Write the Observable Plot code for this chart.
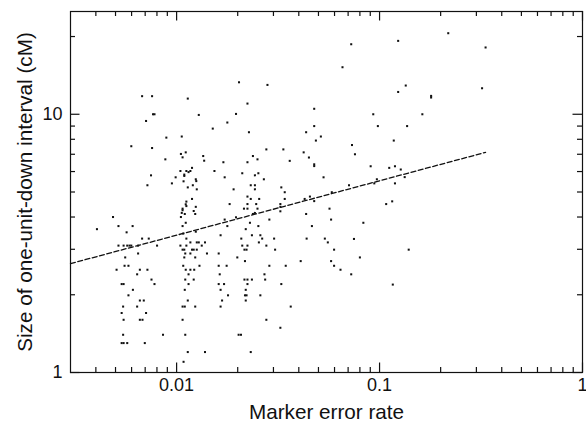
<!DOCTYPE html>
<html><head><meta charset="utf-8">
<script src="https://cdn.jsdelivr.net/npm/d3@7"></script>
<script src="https://cdn.jsdelivr.net/npm/@observablehq/plot@0.6"></script>
<style>body{margin:0;background:#fff;}</style>
</head><body><div id="chart"></div>
<script>
const errorRate = [
 0.00676, 0.00757, 0.01135, 0.00765, 0.00778, 0.01286, 0.00707, 0.0106, 0.0089, 0.00598,
 0.00757, 0.0105, 0.01109, 0.0107, 0.01352, 0.01367, 0.0088, 0.01044, 0.01117, 0.01145,
 0.01169, 0.01191, 0.01091, 0.01091, 0.00748, 0.00989, 0.01082, 0.01243, 0.0125, 0.00948,
 0.00718, 0.01135, 0.01202, 0.01257, 0.01191, 0.01117, 0.01117, 0.01109, 0.01243, 0.0107,
 0.0107, 0.0106, 0.01097, 0.0105, 0.01214, 0.01235, 0.00486, 0.00405, 0.00517, 0.00607,
 0.01109, 0.0107, 0.00567, 0.01078, 0.01243, 0.00676, 0.00729, 0.01117, 0.01169, 0.01257,
 0.01286, 0.0138, 0.00517, 0.00548, 0.00571, 0.00586, 0.00598, 0.00646, 0.00801, 0.01044,
 0.01117, 0.0133, 0.0107, 0.01091, 0.01191, 0.01214, 0.01257, 0.00558, 0.00646, 0.01103,
 0.01169, 0.01411, 0.01091, 0.01235, 0.00554, 0.00579, 0.01078, 0.01296, 0.00506, 0.00659,
 0.00718, 0.01109, 0.01169, 0.01221, 0.00639, 0.01145, 0.00752, 0.01103, 0.01214, 0.00536,
 0.00548, 0.00778, 0.01145, 0.00609, 0.01097, 0.00579, 0.00659, 0.00689, 0.01135, 0.00545,
 0.00639, 0.0107, 0.01097, 0.01235, 0.00536, 0.00707, 0.00548, 0.00659, 0.00679, 0.0107,
 0.00545, 0.00857, 0.01103, 0.00536, 0.00548, 0.00571, 0.00697, 0.01135, 0.0138, 0.01082,
 0.0203, 0.02803, 0.02234, 0.04764, 0.01962, 0.01778, 0.04764, 0.01507, 0.02272, 0.04347,
 0.05138, 0.04856, 0.02768, 0.03357, 0.04227, 0.02377, 0.04487, 0.02503, 0.017, 0.02234,
 0.03609, 0.04764, 0.04764, 0.01536, 0.02106, 0.02528, 0.02431, 0.01725, 0.02691, 0.05297,
 0.02319, 0.02431, 0.02431, 0.01909, 0.0328, 0.0341, 0.05816, 0.02234, 0.02319, 0.02552,
 0.0341, 0.04275, 0.04538, 0.04764, 0.01825, 0.02234, 0.02467, 0.03245, 0.03245, 0.02147,
 0.02234, 0.02503, 0.05667, 0.02377, 0.02431, 0.03245, 0.04347, 0.01962, 0.01725, 0.02864,
 0.0577, 0.02298, 0.01778, 0.02528, 0.04642, 0.02191, 0.01647, 0.0235, 0.02586,
 0.02083, 0.0264, 0.03023, 0.04372, 0.05375, 0.02543, 0.0556, 0.02106, 0.02234, 0.02768,
 0.02159, 0.02211, 0.03057, 0.0597, 0.01612, 0.01991, 0.02172, 0.04087, 0.0577, 0.01612,
 0.01764, 0.02864, 0.03449, 0.0597, 0.0642, 0.01631, 0.02709, 0.02159, 0.02234, 0.0235,
 0.02731, 0.01612, 0.01713, 0.02234, 0.0328, 0.01647, 0.02191, 0.01792, 0.02172, 0.02211,
 0.02586, 0.01675, 0.02191, 0.01647, 0.0365, 0.02768, 0.03245, 0.02021, 0.02076, 0.02319,
 0.218, 0.0725, 0.1235, 0.333, 0.06567, 0.1346, 0.1235, 0.32, 0.1795, 0.1795,
 0.0931, 0.1625, 0.0981, 0.1367, 0.1175, 0.07314, 0.07565, 0.0904, 0.1116, 0.1191,
 0.1272, 0.133, 0.097, 0.0942, 0.1191, 0.0707, 0.1078, 0.1154, 0.0832, 0.0748,
 0.1392, 0.08, 0.0725, 0.1162
];
const intervalSize = [
 11.75, 11.75, 11.5, 10.0, 10.0, 9.94, 9.42, 8.2, 8.12, 7.52,
 7.4, 7.02, 7.12, 6.81, 6.89, 6.61, 6.69, 6.03, 6.03, 5.97,
 6.03, 6.2, 5.84, 5.77, 5.8, 5.7, 5.5, 5.6, 5.51, 5.4,
 5.31, 5.21, 5.31, 5.12, 4.7, 4.59, 4.41, 4.48, 4.38, 4.31,
 4.25, 4.15, 4.11, 4.0, 4.22, 4.11, 4.0, 3.59, 3.69, 3.69,
 3.8, 3.69, 3.49, 3.45, 3.51, 3.3, 3.3, 3.3, 3.19, 3.19,
 3.19, 3.19, 3.1, 3.1, 3.1, 3.1, 3.1, 3.1, 3.1, 3.1,
 3.1, 3.1, 2.99, 2.99, 2.99, 2.99, 2.99, 2.79, 2.89, 2.89,
 2.89, 2.89, 2.79, 2.79, 2.59, 2.59, 2.59, 2.59, 2.5, 2.5,
 2.5, 2.5, 2.5, 2.5, 2.4, 2.4, 2.29, 2.29, 2.29, 2.2,
 2.2, 2.2, 2.2, 2.09, 2.09, 1.99, 1.9, 1.9, 1.9, 1.8,
 1.8, 1.8, 1.8, 1.8, 1.7, 1.7, 1.6, 1.6, 1.6, 1.6,
 1.4, 1.4, 1.4, 1.3, 1.3, 1.3, 1.3, 1.2, 1.2, 1.1,
 13.3, 12.99, 11.0, 10.5, 10.03, 9.29, 9.0, 8.8, 8.52, 8.52,
 8.2, 7.91, 7.31, 7.31, 7.12, 6.89, 6.8, 6.69, 6.52, 6.52,
 6.6, 6.4, 6.3, 6.03, 5.91, 5.91, 5.8, 5.7, 5.6, 5.7,
 5.31, 5.31, 5.12, 5.12, 5.21, 4.99, 4.99, 4.8, 4.7, 4.7,
 4.7, 4.7, 4.8, 4.61, 4.49, 4.49, 4.49, 4.49, 4.38, 4.31,
 4.31, 4.31, 4.31, 4.11, 4.15, 4.21, 4.11, 3.99, 3.91, 3.91,
 3.91, 3.8, 3.69, 3.69, 3.69, 3.59, 3.4, 3.4, 3.4,
 3.3, 3.3, 3.3, 3.3, 3.3, 3.19, 3.19, 3.1, 3.1, 3.1,
 2.99, 2.99, 2.99, 2.99, 2.89, 2.79, 2.7, 2.7, 2.7, 2.59,
 2.59, 2.59, 2.59, 2.59, 2.5, 2.4, 2.4, 2.29, 2.29, 2.29,
 2.29, 2.2, 2.2, 2.2, 2.2, 2.09, 2.09, 1.99, 1.99, 1.99,
 1.99, 1.9, 1.9, 1.8, 1.8, 1.6, 1.49, 1.4, 1.4, 1.2,
 20.6, 18.67, 19.24, 18.14, 15.21, 12.92, 12.2, 12.61, 11.78, 11.61,
 10.0, 10.0, 9.0, 9.0, 7.91, 7.6, 7.0, 6.29, 6.2, 6.29,
 6.11, 5.71, 5.6, 5.4, 5.4, 5.31, 4.49, 4.6, 3.8, 3.29,
 2.99, 2.79, 2.4, 2.19
];
const fitX = [0.003, 0.333];
const fitY = [2.64, 7.12];
const xMajor = [0.01, 0.1, 1];
const xMinor = [0.004, 0.005, 0.006, 0.007, 0.008, 0.009, 0.02, 0.03, 0.04, 0.05, 0.06, 0.07, 0.08, 0.09, 0.2, 0.3, 0.4, 0.5, 0.6, 0.7, 0.8, 0.9];
const yMajor = [1, 10];
const yMinor = [2, 3, 4, 5, 6, 7, 8, 9, 20];
const xLabel = "Marker error rate";
const yLabel = "Size of one-unit-down interval (cM)";

const points = errorRate.map((x, i) => ({x, y: intervalSize[i]}));
const fit = fitX.map((x, i) => ({x, y: fitY[i]}));
const W = 586, H = 426, mt = 11, mb = 54, ml = 70, mr = 4;
const fh = H - mt - mb, fw = W - ml - mr;
const MAJ = 9.5, MIN = 5;
const tickStyle = {stroke: "#111", strokeWidth: 1.2};

const chart = Plot.plot({
  width: W, height: H,
  marginTop: mt, marginBottom: mb, marginLeft: ml, marginRight: mr,
  style: {fontFamily: "'Liberation Sans', Arial, Helvetica, sans-serif", fontSize: "18px", background: "#fff", color: "#111"},
  x: {type: "log", domain: [0.003, 1], axis: null},
  y: {type: "log", domain: [1, 25], axis: null},
  marks: [
    Plot.ruleX(xMajor, {x: d => d, insetTop: fh - MAJ, ...tickStyle}),
    Plot.ruleX(xMajor, {x: d => d, insetBottom: fh - MAJ, ...tickStyle}),
    Plot.ruleX(xMinor, {x: d => d, insetTop: fh - MIN, ...tickStyle}),
    Plot.ruleX(xMinor, {x: d => d, insetBottom: fh - MIN, ...tickStyle}),
    Plot.ruleY(yMajor, {y: d => d, insetRight: fw - MAJ, ...tickStyle}),
    Plot.ruleY(yMajor, {y: d => d, insetLeft: fw - MAJ, ...tickStyle}),
    Plot.ruleY(yMinor, {y: d => d, insetRight: fw - MIN, ...tickStyle}),
    Plot.ruleY(yMinor, {y: d => d, insetLeft: fw - MIN, ...tickStyle}),
    Plot.frame({stroke: "#111", strokeWidth: 1.2}),
    Plot.line(fit, {x: "x", y: "y", stroke: "#111", strokeWidth: 1.3, strokeDasharray: "5,2.5"}),
    Plot.dot(points, {x: "x", y: "y", symbol: "square", r: 1.15, fill: "#111", stroke: "none"}),
    Plot.text(xMajor, {x: d => d, text: d => String(d), frameAnchor: "bottom", lineAnchor: "top", dy: 6, fontSize: 18, fill: "#111"}),
    Plot.text(yMajor, {y: d => d, text: d => String(d), frameAnchor: "left", textAnchor: "end", dx: -8, fontSize: 18, fill: "#111"}),
    Plot.text([xLabel], {frameAnchor: "bottom", dy: 40, lineAnchor: "middle", fontSize: 20.7, fill: "#111"}),
    Plot.text([yLabel], {frameAnchor: "left", textAnchor: "middle", lineAnchor: "middle", rotate: -90, dx: -45, fontSize: 20.7, fill: "#111"})
  ]
});
document.getElementById("chart").appendChild(chart);
</script>
</body></html>
